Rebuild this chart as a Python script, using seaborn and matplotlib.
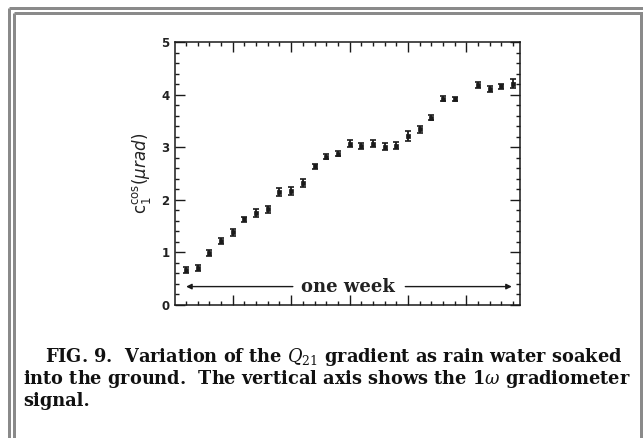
import matplotlib
matplotlib.use("Agg")
import matplotlib.pyplot as plt
from matplotlib.lines import Line2D
from matplotlib.ticker import MultipleLocator, NullFormatter
import seaborn as sns
import pandas as pd

# Measurements, evenly spaced over one week (slot 24 has no data)
slot = [0, 1, 2, 3, 4, 5, 6, 7, 8, 9, 10, 11, 12, 13, 14, 15, 16, 17, 18, 19,
        20, 21, 22, 23, 25, 26, 27, 28]
c1cos = [0.66, 0.70, 0.99, 1.22, 1.38, 1.63, 1.75, 1.82, 2.15, 2.17, 2.32,
         2.64, 2.82, 2.88, 3.07, 3.02, 3.07, 3.01, 3.03, 3.21, 3.34, 3.56,
         3.92, 3.91, 4.18, 4.10, 4.16, 4.21]
c1cos_err = [0.06, 0.06, 0.06, 0.06, 0.07, 0.05, 0.08, 0.07, 0.08, 0.08, 0.07,
             0.05, 0.05, 0.05, 0.07, 0.06, 0.06, 0.07, 0.06, 0.09, 0.07, 0.05,
             0.05, 0.04, 0.06, 0.06, 0.05, 0.09]

y_ticks = [0, 1, 2, 3, 4, 5]
span_label = "one week"
caption_lines = [
    r"FIG. 9.  Variation of the $Q_{21}$ gradient as rain water soaked",
    r"into the ground.  The vertical axis shows the 1$\omega$ gradiometer",
    "signal.",
]

df = pd.DataFrame({"slot": slot, "c1cos": c1cos, "err": c1cos_err})

sns.set_theme(style="ticks")
plt.rcParams["font.family"] = ["DejaVu Serif"]
plt.rcParams["mathtext.fontset"] = "dejavuserif"

W, H = 643, 438
fig = plt.figure(figsize=(W / 100, H / 100), dpi=100)
fig.patch.set_facecolor("white")
ax = fig.add_axes([175 / W, 1 - 305 / H, (520 - 175) / W, (305 - 42) / H])

ink = "#1a1a1a"
ax.errorbar(df["slot"], df["c1cos"], yerr=df["err"], fmt="none",
            ecolor=ink, elinewidth=1.3, capsize=2.4, capthick=1.2)
sns.scatterplot(data=df, x="slot", y="c1cos", ax=ax, marker="s", s=11,
                color=ink, edgecolor=ink, linewidth=0.5, zorder=3)

ax.set_xlim(-0.95, 28.6)
ax.set_ylim(0, 5)
ax.set_yticks(y_ticks)
ax.yaxis.set_minor_locator(MultipleLocator(0.2))
ax.xaxis.set_major_locator(MultipleLocator(5, offset=4))
ax.xaxis.set_minor_locator(MultipleLocator(1))
ax.xaxis.set_major_formatter(NullFormatter())
ax.tick_params(which="both", direction="in", top=True, right=True,
               color=ink, width=1.0)
ax.tick_params(which="major", length=7)
ax.tick_params(which="minor", length=3)
for lab in ax.get_yticklabels():
    lab.set_fontfamily("DejaVu Sans")
    lab.set_fontweight("bold")
    lab.set_fontsize(8.5)
    lab.set_color("#222222")
ax.tick_params(axis="y", pad=4)
for s in ax.spines.values():
    s.set_color(ink)
    s.set_linewidth(1.1)

ax.set_xlabel("")
ylab = ax.set_ylabel(r"$\mathrm{c}_1^{\mathrm{cos}}(\mu rad)$", fontsize=12,
                     family="DejaVu Sans", color="#222222", labelpad=6)
ylab.set_math_fontfamily("dejavusans")

# "one week" span arrow
ax.annotate("", xy=(0.0, 0.35), xytext=(13.9, 0.35),
            arrowprops=dict(arrowstyle="-|>", color=ink, lw=1.0,
                            mutation_scale=8, shrinkA=40, shrinkB=0))
ax.annotate("", xy=(27.9, 0.35), xytext=(13.9, 0.35),
            arrowprops=dict(arrowstyle="-|>", color=ink, lw=1.0,
                            mutation_scale=8, shrinkA=41, shrinkB=0))
ax.text(13.9, 0.35, span_label, ha="center", va="center", fontsize=13,
        fontweight="bold", color="#222222")

# caption
cap_kw = dict(fontsize=12.8, fontweight="bold", color="#111111",
              va="baseline")
fig.text(45 / W, 1 - 362 / H, caption_lines[0], **cap_kw)
fig.text(23 / W, 1 - 384 / H, caption_lines[1], **cap_kw)
fig.text(23 / W, 1 - 406 / H, caption_lines[2], **cap_kw)

# double grey frame round the figure
gray = "#8a8a8a"
lw = 3 * 72 / 100
for x0, y0 in [(8.5, 7.5), (13.5, 12.5)]:
    fig.add_artist(Line2D([x0 / W, x0 / W], [0, 1 - y0 / H], color=gray,
                          lw=lw, transform=fig.transFigure,
                          solid_capstyle="butt"))
    fig.add_artist(Line2D([x0 / W, 1], [1 - y0 / H, 1 - y0 / H], color=gray,
                          lw=lw, transform=fig.transFigure,
                          solid_capstyle="butt"))
fig.add_artist(Line2D([641 / W, 641 / W], [0, 1 - 12.5 / H], color=gray,
                      lw=lw, transform=fig.transFigure, solid_capstyle="butt"))

fig.savefig("out.png", dpi=100, facecolor="white")
